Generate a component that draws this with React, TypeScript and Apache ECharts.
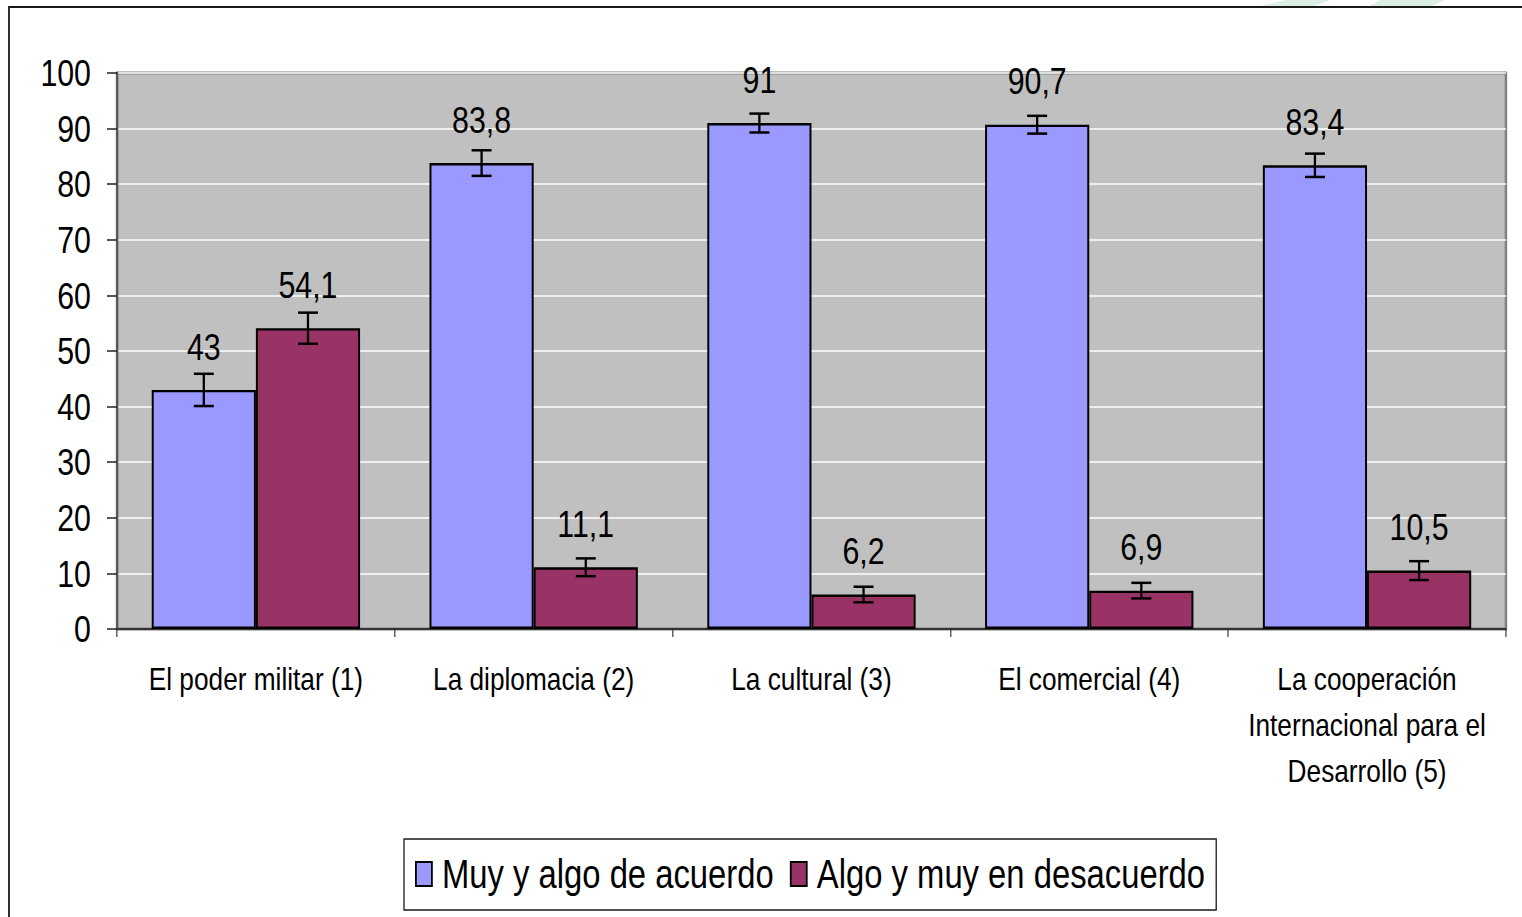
import React, { useEffect, useRef } from "react";
import * as echarts from "echarts";

const categories = [
  "El poder militar (1)",
  "La diplomacia (2)",
  "La cultural (3)",
  "El comercial (4)",
  "La cooperación\nInternacional para el\nDesarrollo (5)",
];
const seriesNames = ["Muy y algo de acuerdo", "Algo y muy en desacuerdo"];
const acuerdo = [43, 83.8, 91, 90.7, 83.4];
const desacuerdo = [54.1, 11.1, 6.2, 6.9, 10.5];
const acuerdoErr = [2.9, 2.3, 1.7, 1.6, 2.1];
const desacuerdoErr = [2.8, 1.6, 1.4, 1.4, 1.7];
const yTicks = { min: 0, max: 100, interval: 10 };

// Arial Narrow look: Liberation Sans, horizontally compressed via container scale
const SX = 0.82;
const W = 1522;
const H = 917;
const FONT = "'Liberation Sans', Arial, sans-serif";
const BLUE = "#9999FF";
const MAROON = "#993366";
const GAP = 0.25;
const px = (x: number) => x / SX;

function errData(vals: number[], errs: number[]) {
  return vals.map((v, i) => [i, v - errs[i], v + errs[i]]);
}

function errSeries(name: string, vals: number[], errs: number[], side: number) {
  return {
    type: "custom",
    name: name + " err",
    data: errData(vals, errs),
    encode: { x: 0, y: [1, 2] },
    z: 5,
    silent: true,
    renderItem: (params: any, api: any) => {
      const idx = api.value(0);
      const lo = api.value(1);
      const hi = api.value(2);
      const band = api.size([1, 0])[0];
      const off = (side * band * (1 - GAP)) / 4;
      const pLo = api.coord([idx, lo]);
      const pHi = api.coord([idx, hi]);
      const x = pLo[0] + off;
      const half = px(10);
      const stV = { stroke: "#000", lineWidth: 2.8 };
      const stH = { stroke: "#000", lineWidth: 2.5 };
      return {
        type: "group",
        children: [
          { type: "line", shape: { x1: x, y1: pHi[1], x2: x, y2: pLo[1] }, style: stV },
          { type: "line", shape: { x1: x - half, y1: pHi[1], x2: x + half, y2: pHi[1] }, style: stH },
          { type: "line", shape: { x1: x - half, y1: pLo[1], x2: x + half, y2: pLo[1] }, style: stH },
        ],
      };
    },
  };
}

const fmt = (p: any) => String(p.value).replace(".", ",");

export default function App() {
  const ref = useRef<HTMLDivElement>(null);
  useEffect(() => {
    if (!ref.current) return;
    const chart = echarts.init(ref.current, null, { renderer: "svg" });
    const barLabel = {
      show: true,
      position: "top",
      distance: 25,
      formatter: fmt,
      color: "#000",
      fontSize: 37,
      fontFamily: FONT,
    };
    chart.setOption({
      animation: false,
      backgroundColor: "#fff",
      textStyle: { fontFamily: FONT },
      graphic: [
        {
          type: "polygon",
          shape: { points: [[px(1258), 7], [px(1285), 0], [px(1330), 0], [px(1312), 7]] },
          style: { fill: "#dcefe5" },
          silent: true,
        },
        {
          type: "polygon",
          shape: { points: [[px(1368), 7], [px(1380), 0], [px(1445), 0], [px(1430), 7]] },
          style: { fill: "#dcefe5" },
          silent: true,
        },
        {
          type: "rect",
          shape: { x: px(9), y: 7, width: px(1700), height: 1000 },
          style: { fill: "none", stroke: "#1a1a1a", lineWidth: 2.2 },
          silent: true,
        },
      ],
      grid: {
        left: px(117),
        right: px(16),
        top: 73,
        bottom: 288,
        show: true,
        backgroundColor: "#C0C0C0",
        borderColor: "#808080",
        borderWidth: 3,
      },
      legend: {
        data: seriesNames,
        icon: "rect",
        left: px(404),
        top: 839,
        orient: "horizontal",
        itemWidth: px(16),
        itemHeight: 24,
        itemGap: px(16),
        padding: [15, px(11), 16, px(11)],
        borderColor: "#1a1a1a",
        borderWidth: 1.6,
        textStyle: { fontSize: 40, fontFamily: FONT, color: "#000", padding: [0, 0, 0, px(6)] },
        itemStyle: { borderColor: "#000", borderWidth: 2.2 },
      },
      xAxis: {
        type: "category",
        data: categories,
        axisLine: { show: true, lineStyle: { color: "#333", width: 2 } },
        axisTick: { show: true, length: 8, lineStyle: { color: "#333", width: 1.4 } },
        axisLabel: {
          color: "#000",
          fontSize: 32,
          fontFamily: FONT,
          lineHeight: 46,
          margin: 27,
          interval: 0,
        },
      },
      yAxis: {
        type: "value",
        min: yTicks.min,
        max: yTicks.max,
        interval: yTicks.interval,
        axisLine: { show: true, lineStyle: { color: "#555", width: 2.4 } },
        axisTick: { show: true, length: px(10), lineStyle: { color: "#222", width: 1.5 } },
        axisLabel: { color: "#000", fontSize: 37, fontFamily: FONT, margin: px(26) },
        splitLine: { show: true, lineStyle: { color: "#ffffff", width: 1.5 } },
      },
      series: [
        {
          type: "bar",
          name: seriesNames[0],
          data: acuerdo,
          barGap: "0%",
          barCategoryGap: "25%",
          itemStyle: { color: BLUE, borderColor: "#000", borderWidth: 2.4 },
          label: barLabel,
        },
        {
          type: "bar",
          name: seriesNames[1],
          data: desacuerdo,
          barGap: "0%",
          barCategoryGap: "25%",
          itemStyle: { color: MAROON, borderColor: "#000", borderWidth: 2.4 },
          label: barLabel,
        },
        errSeries(seriesNames[0], acuerdo, acuerdoErr, -1),
        errSeries(seriesNames[1], desacuerdo, desacuerdoErr, 1),
      ],
    });
    return () => chart.dispose();
  }, []);
  return (
    <div style={{ position: "fixed", left: 0, top: 0, width: W, height: H, overflow: "hidden", background: "#fff" }}>
      <div
        ref={ref}
        style={{
          position: "absolute",
          left: 0,
          top: 0,
          width: W / SX,
          height: H,
          transform: `scaleX(${SX})`,
          transformOrigin: "0 0",
        }}
      />
    </div>
  );
}
